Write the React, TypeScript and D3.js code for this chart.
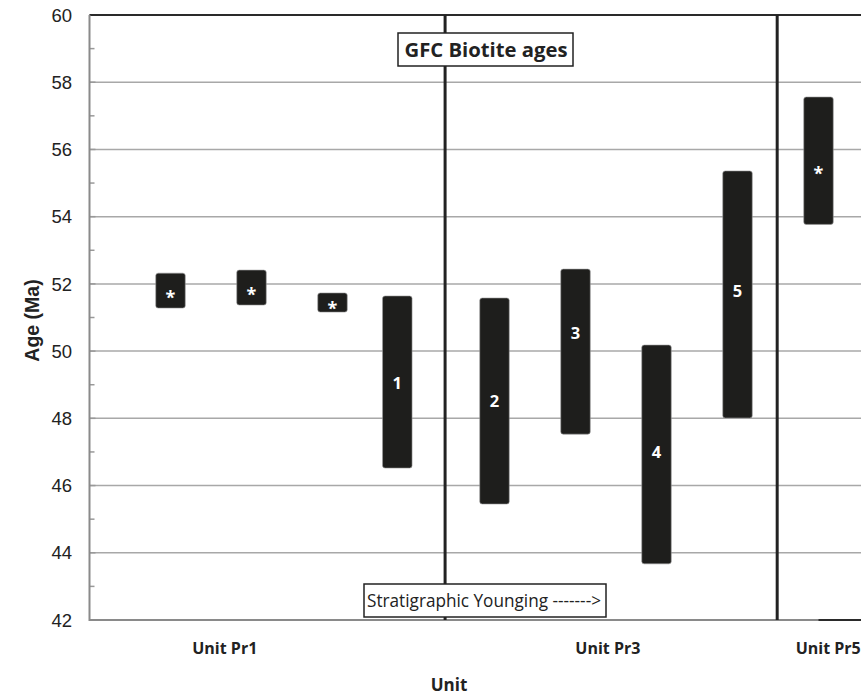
import React from "react";
import * as d3 from "d3";

const positions = [1, 2, 3, 3.8, 5, 6, 7, 8, 9];
const lowAges = [51.28, 51.37, 51.16, 46.52, 45.45, 47.53, 43.67, 48.01, 53.77];
const highAges = [52.32, 52.41, 51.73, 51.64, 51.58, 52.44, 50.18, 55.36, 57.56];
const barLabels = ["*", "*", "*", "1", "2", "3", "4", "5", "*"];
const labelAges = [51.79, 51.88, 51.46, 49.05, 48.52, 50.54, 47.0, 51.79, 55.48];
const yTicks = [42, 44, 46, 48, 50, 52, 54, 56, 58, 60];
const minorTicks = [43, 45, 47, 49, 51, 53, 55, 57, 59];
const dividers = [4.39, 8.49];
const unitLabels = ["Unit Pr1", "Unit Pr3", "Unit Pr5"];
const unitPositions = [1.67, 6.4, 9.12];

const W = 861;
const H = 698;
const left = 89.5;
const top = 15;
const bottom = 620;

export default function App() {
  const x = d3.scaleLinear().domain([0, 1]).range([left, left + 81]);
  const y = d3.scaleLinear().domain([42, 60]).range([bottom, top]);
  const barW = 29.5;
  const sans = "'Open Sans', 'Noto Sans', sans-serif";
  const arial = "'Liberation Sans', Arial, sans-serif";
  return (
    <svg width={W} height={H} style={{ position: "absolute", left: 0, top: 0, background: "#fff" }}>
      <rect x={0} y={0} width={W} height={H} fill="#fff" />
      {yTicks.slice(1, -1).map((t) => (
        <line key={t} x1={left} x2={W} y1={y(t)} y2={y(t)} stroke="#a8a8a8" strokeWidth={1.5} />
      ))}
      {minorTicks.map((t) => (
        <line key={t} x1={left} x2={left + 5} y1={y(t)} y2={y(t)} stroke="#999" strokeWidth={1.5} />
      ))}
      {yTicks.map((t) => (
        <line key={"m" + t} x1={left} x2={left + 6} y1={y(t)} y2={y(t)} stroke="#999" strokeWidth={1.5} />
      ))}
      <line x1={left} x2={W} y1={y(60)} y2={y(60)} stroke="#2a2a2a" strokeWidth={2} />
      <line x1={left} x2={W} y1={y(42)} y2={y(42)} stroke="#8a8a8a" strokeWidth={2} />
      <line x1={x(9.0)} x2={W} y1={y(42)} y2={y(42)} stroke="#2a2a2a" strokeWidth={2} />
      <line x1={left} x2={left} y1={top} y2={bottom + 1} stroke="#8a8a8a" strokeWidth={2} />
      {dividers.map((d) => (
        <line key={d} x1={x(d)} x2={x(d)} y1={top} y2={bottom} stroke="#222" strokeWidth={3} />
      ))}
      {positions.map((p, i) => (
        <rect
          key={i}
          x={x(p) - barW / 2}
          y={y(highAges[i])}
          width={barW}
          height={y(lowAges[i]) - y(highAges[i])}
          rx={2.5}
          fill="#1e1e1c"
          stroke="#9a9a9a"
          strokeWidth={0.6}
        />
      ))}
      {positions.map((p, i) => (
        <text
          key={"l" + i}
          x={x(p)}
          y={y(labelAges[i])}
          dy={barLabels[i] === "*" ? "0.7em" : "0.36em"}
          textAnchor="middle"
          fill="#fff"
          fontFamily={sans}
          fontWeight="bold"
          fontSize={barLabels[i] === "*" ? 18 : 16.5}
        >
          {barLabels[i]}
        </text>
      ))}
      {yTicks.map((t) => (
        <text key={"t" + t} x={72} y={y(t)} dy="0.36em" textAnchor="end" fontFamily={arial} fontSize={18.5} fill="#222">
          {t}
        </text>
      ))}
      <text
        transform={`translate(39, ${(top + bottom) / 2 + 3}) rotate(-90)`}
        textAnchor="middle"
        fontFamily={arial}
        fontWeight="bold"
        fontSize={19.5}
        fill="#222"
      >
        Age (Ma)
      </text>
      {unitLabels.map((u, i) => (
        <text key={u} x={x(unitPositions[i])} y={654} textAnchor="middle" fontFamily={sans} fontWeight="bold" fontSize={16} fill="#222">
          {u}
        </text>
      ))}
      <text x={449} y={691} textAnchor="middle" fontFamily={sans} fontWeight="bold" fontSize={17} fill="#222">
        Unit
      </text>
      <rect x={398} y={33} width={175} height={33} fill="#fff" stroke="#222" strokeWidth={1.5} />
      <text x={486} y={57} textAnchor="middle" fontFamily={sans} fontWeight="bold" fontSize={19.5} fill="#222" textLength={163} lengthAdjust="spacingAndGlyphs">
        GFC Biotite ages
      </text>
      <rect x={364} y={584} width={242} height={33} fill="#fff" stroke="#222" strokeWidth={1.5} />
      <text x={367} y={607} fontFamily={sans} fontSize={18} fill="#222" textLength={234} lengthAdjust="spacingAndGlyphs">
        Stratigraphic Younging -------&gt;
      </text>
    </svg>
  );
}
